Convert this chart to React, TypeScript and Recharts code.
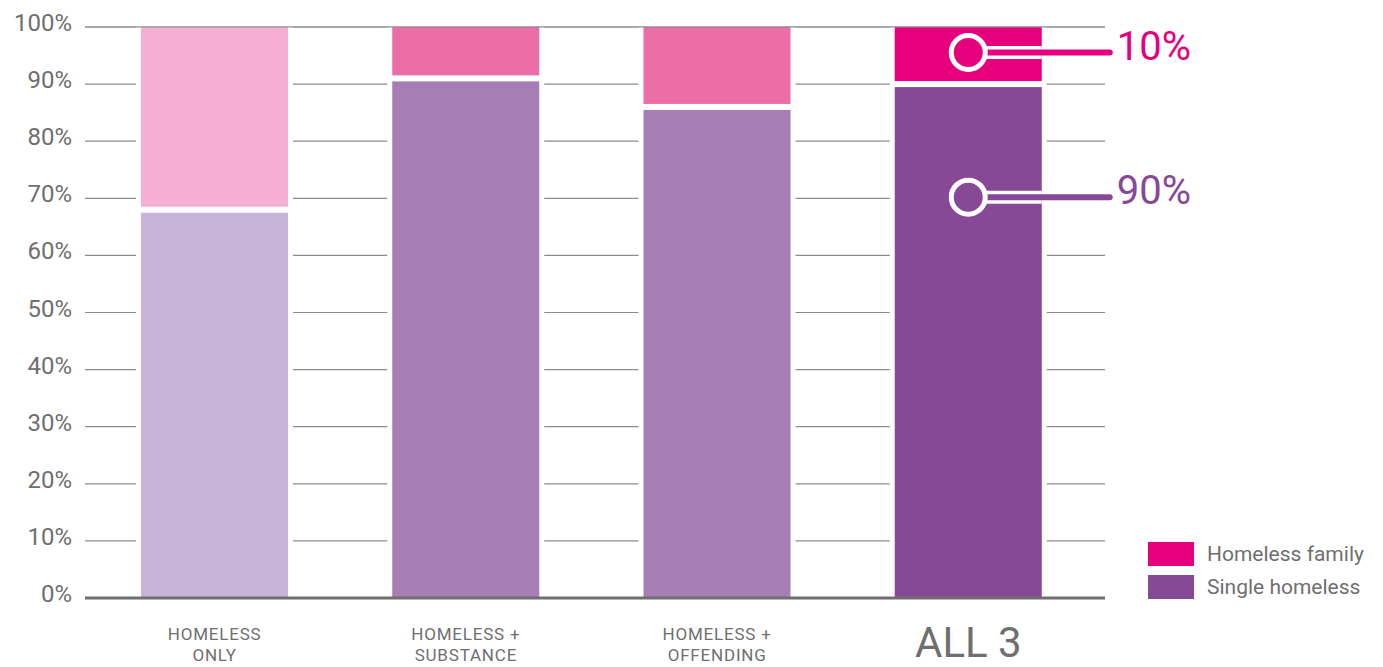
import * as React from "react";
import {
  BarChart,
  Bar,
  Cell,
  XAxis,
  YAxis,
  CartesianGrid,
  Legend,
  LabelList,
  ReferenceLine,
} from "recharts";

const categories = ["HOMELESS ONLY", "HOMELESS + SUBSTANCE", "HOMELESS + OFFENDING", "ALL 3"];
const singleHomeless = [68, 91, 86, 90];
const homelessFamily = [32, 9, 14, 10];
const yTicks = [0, 10, 20, 30, 40, 50, 60, 70, 80, 90, 100];

const singleColors = ["#c8b3d9", "#a67db5", "#a67db5", "#874895"];
const familyColors = ["#f4afd2", "#ec6ea6", "#ec6ea6", "#e6007e"];
const legendItems = [
  { label: "Homeless family", color: "#e6007e" },
  { label: "Single homeless", color: "#874895" },
];

const data = categories.map((name, i) => ({
  name,
  single: singleHomeless[i],
  family: homelessFamily[i],
}));

const GREY = "#6f6f6f";
const FONT = "Roboto, 'DejaVu Sans', sans-serif";

// bar with a white halo, gap between stacked parts
function makeShape(gapTop: number, gapBottom: number) {
  return (props: any) => {
    const { x, y, width, height, fill } = props;
    if (!height || height <= 0) return null;
    return (
      <g>
        <rect x={x - 5} y={y} width={width + 10} height={height} fill="#fff" />
        <rect
          x={x}
          y={y + gapTop}
          width={width}
          height={Math.max(0, height - gapTop - gapBottom)}
          fill={fill}
        />
      </g>
    );
  };
}

function makeCallout(color: string, frac: number, shift: number) {
  return (props: any) => {
    const { index, value } = props;
    if (index !== categories.length - 1) return null;
    const vb = props.viewBox || props;
    const x = vb.x ?? props.x;
    const y = vb.y ?? props.y;
    const width = vb.width ?? props.width;
    const height = vb.height ?? props.height;
    const cx = x + width / 2;
    const cy = y + height * frac + shift;
    const endX = x + width + 68;
    return (
      <g>
        <line x1={cx} y1={cy} x2={x + width} y2={cy} stroke="#fff" strokeWidth={13} />
        <line x1={cx} y1={cy} x2={endX} y2={cy} stroke={color} strokeWidth={6} strokeLinecap="round" />
        <circle cx={cx} cy={cy} r={17} fill={color} stroke="#fff" strokeWidth={5} />
        <text x={endX + 7} y={cy + 7} fill={color} fontSize={40} fontFamily={FONT}>
          {`${value}%`}
        </text>
      </g>
    );
  };
}

function XTick(props: any) {
  const { x, y, payload } = props;
  const label: string = payload.value;
  if (label === "ALL 3") {
    return (
      <text x={x} y={y + 51} textAnchor="middle" fill={GREY} fontSize={42} fontFamily={FONT}>
        {label}
      </text>
    );
  }
  const idx = label.lastIndexOf(" ");
  const l1 = label.slice(0, idx);
  const l2 = label.slice(idx + 1);
  return (
    <text textAnchor="middle" fill={GREY} fontSize={17} fontFamily={FONT} letterSpacing={0.8}>
      <tspan x={x} y={y + 34}>{l1}</tspan>
      <tspan x={x} y={y + 55}>{l2}</tspan>
    </text>
  );
}

function YTick(props: any) {
  const { x, y, payload } = props;
  return (
    <text x={x} y={y + 4} textAnchor="end" fill={GREY} fontSize={24} fontFamily={FONT}>
      {`${payload.value}%`}
    </text>
  );
}

function LegendBox() {
  return (
    <div style={{ fontFamily: FONT }}>
      {legendItems.map((it) => (
        <div key={it.label} style={{ display: "flex", alignItems: "center", height: 24, marginBottom: 9 }}>
          <div style={{ width: 46, height: 24, background: it.color }} />
          <span style={{ marginLeft: 13, fontSize: 21, color: GREY }}>{it.label}</span>
        </div>
      ))}
    </div>
  );
}

export default function App() {
  return (
    <div style={{ position: "absolute", left: 0, top: 0 }}>
      <BarChart
        width={1383}
        height={667}
        data={data}
        margin={{ top: 27, right: 278, bottom: 68, left: 0 }}
      >
        <CartesianGrid vertical={false} stroke="#8c8c8c" strokeWidth={1.2} />
        <XAxis
          dataKey="name"
          height={1}
          axisLine={false}
          tickLine={false}
          tick={<XTick />}
          interval={0}
          padding={{ left: 4, right: 11 }}
        />
        <YAxis
          width={85}
          domain={[0, 100]}
          ticks={yTicks}
          axisLine={false}
          tickLine={false}
          tickMargin={7}
          tick={<YTick />}
        />
        <Bar dataKey="single" stackId="a" barSize={147} shape={makeShape(3, 0)} isAnimationActive={false}>
          {data.map((_, i) => (
            <Cell key={`s-${i}`} fill={singleColors[i]} />
          ))}
          <LabelList dataKey="single" content={makeCallout("#874895", 0.22, 0)} />
        </Bar>
        <Bar dataKey="family" stackId="a" barSize={147} shape={makeShape(0, 3)} isAnimationActive={false}>
          {data.map((_, i) => (
            <Cell key={`f-${i}`} fill={familyColors[i]} />
          ))}
          <LabelList dataKey="family" content={makeCallout("#e6007e", 0.5, -3)} />
        </Bar>
        <ReferenceLine y={100} stroke="#8c8c8c" strokeWidth={1.2} />
        <ReferenceLine y={0} stroke="#6f6f6f" strokeWidth={3} />
        <Legend
          layout="vertical"
          align="center"
          verticalAlign="middle"
          content={<LegendBox />}
          wrapperStyle={{ left: 1148, top: 542, width: 235 }}
        />
      </BarChart>
    </div>
  );
}
